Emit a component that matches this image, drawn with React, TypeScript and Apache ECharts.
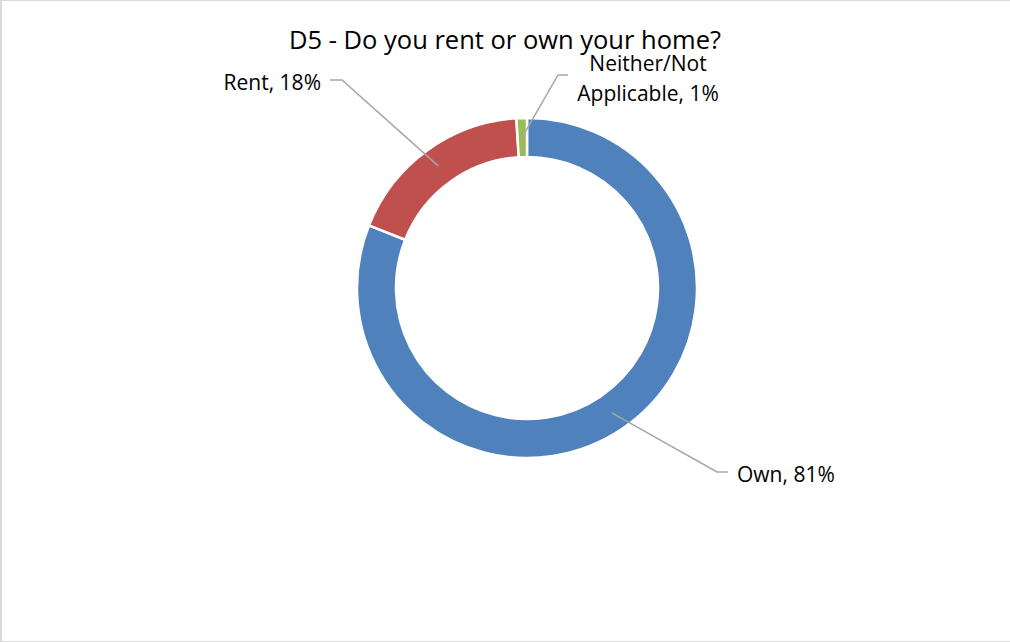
import React, { useEffect, useRef } from "react";
import * as echarts from "echarts";

const titleText = "D5 - Do you rent or own your home?";
const categories = ["Own", "Rent", "Neither/Not\nApplicable"];
const values = [81, 18, 1];
const colors = ["#4F81BD", "#C0504D", "#9BBB59"];

// label placement (layout only)
const labelPos: Record<string, { x: number; y: number; align: string; elbow: [number, number]; end: [number, number] }> = {
  Own: { x: 737, y: 474, align: "left", elbow: [717, 472], end: [728, 472] },
  Rent: { x: 321, y: 82, align: "right", elbow: [342, 80], end: [330, 80] },
  "Neither/Not\nApplicable": { x: 648, y: 85, align: "center", elbow: [558, 75], end: [568, 75] },
};

const FONT = "'Open Sans', sans-serif";

export default function App() {
  const ref = useRef<HTMLDivElement>(null);
  useEffect(() => {
    if (!ref.current) return;
    const chart = echarts.init(ref.current, null, { renderer: "svg" });
    const data = categories.map((c, i) => ({ name: c, value: values[i], itemStyle: { color: colors[i] } }));
    chart.setOption({
      animation: false,
      title: {
        text: titleText,
        left: "center",
        top: 21,
        textStyle: { fontFamily: FONT, fontSize: 25.5, fontWeight: "normal", color: "#000" },
      },
      series: [
        {
          type: "pie",
          z: 2,
          center: [527, 288],
          radius: [131, 170],
          startAngle: 90,
          clockwise: true,
          silent: true,
          label: { show: false },
          labelLine: { show: false },
          itemStyle: { borderColor: "#fff", borderWidth: 2.5 },
          data,
        },
        {
          type: "pie",
          z: 5,
          center: [527, 288],
          radius: [0, 151],
          startAngle: 90,
          clockwise: true,
          silent: true,
          avoidLabelOverlap: false,
          itemStyle: { color: "rgba(0,0,0,0)" },
          label: {
            show: true,
            position: "outside",
            fontFamily: FONT,
            fontSize: 21,
            color: "#000",
            formatter: (p: any) => {
              const parts = `${p.name}, ${p.value}%`.split("\n");
              return parts.length > 1 ? `{a|${parts[0]}}\n{b|${parts[1]}}` : `{c|${parts[0]}}`;
            },
            rich: {
              a: { fontFamily: FONT, fontSize: 21, lineHeight: 16, color: "#000" },
              b: { fontFamily: FONT, fontSize: 21, lineHeight: 44, color: "#000" },
              c: { fontFamily: FONT, fontSize: 21, lineHeight: 26, color: "#000" },
            },
          },
          labelLine: { show: true, length: 0, length2: 0, lineStyle: { color: "#A6A6A6", width: 1.5 } },
          labelLayout: (p: any) => {
            const pos = labelPos[categories[p.dataIndex]];
            const start = p.labelLinePoints ? p.labelLinePoints[0] : pos.elbow;
            return {
              x: pos.x,
              y: pos.y,
              align: pos.align,
              verticalAlign: "middle",
              labelLinePoints: [start, pos.elbow, pos.end],
            };
          },
          data: categories.map((c, i) => ({ name: c, value: values[i] })),
        },
      ],
    });
    return () => chart.dispose();
  }, []);
  return (
    <div
      style={{
        position: "absolute",
        left: 0,
        top: 0,
        width: 1010,
        height: 642,
        boxSizing: "border-box",
        borderTop: "1px solid #d9d9d9",
        borderLeft: "2px solid #d9d9d9",
        borderBottom: "1px solid #d9d9d9",
        background: "#fff",
      }}
    >
      <div ref={ref} style={{ position: "absolute", left: -2, top: -1, width: 1010, height: 642 }} />
    </div>
  );
}
